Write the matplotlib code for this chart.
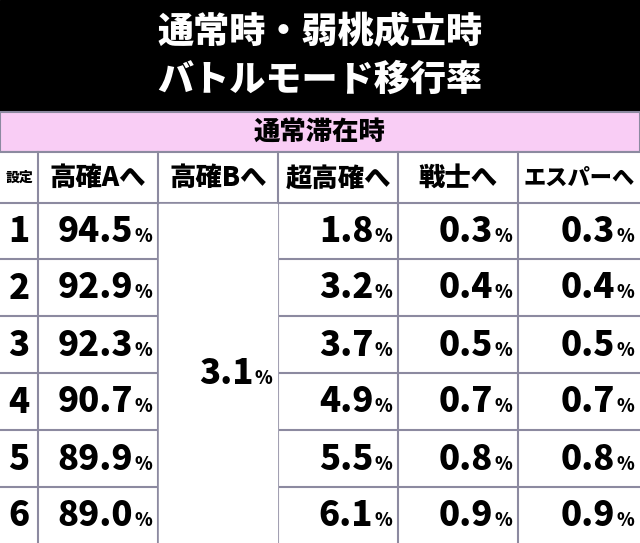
import matplotlib
matplotlib.use("Agg")
import matplotlib.pyplot as plt
from matplotlib.patches import Rectangle

plt.rcParams['font.family'] = ['Noto Sans CJK JP', 'DejaVu Sans']

title_lines = ["通常時・弱桃成立時", "バトルモード移行率"]
section = "通常滞在時"
settings = ["1", "2", "3", "4", "5", "6"]
headers = ["設定", "高確Aへ", "高確Bへ", "超高確へ", "戦士へ", "エスパーへ"]
kakuA = ["94.5", "92.9", "92.3", "90.7", "89.9", "89.0"]
kakuB = "3.1"
choukou = ["1.8", "3.2", "3.7", "4.9", "5.5", "6.1"]
senshi = ["0.3", "0.4", "0.5", "0.7", "0.8", "0.9"]
esper = ["0.3", "0.4", "0.5", "0.7", "0.8", "0.9"]

W, H = 640, 543
fig = plt.figure(figsize=(6.4, 5.43), dpi=100)
ax = fig.add_axes([0, 0, 1, 1])
ax.set_xlim(0, W); ax.set_ylim(H, 0); ax.axis('off')

cols = [0, 38, 158, 278, 398, 518, 640]
rows = [203, 259, 316, 373, 430, 487, 543]
line_c = '#8c8aa0'
WT = 'heavy'

ax.add_patch(Rectangle((0, 0), W, 112, color='black'))
ax.text(320, 32, title_lines[0], color='white', fontsize=26, weight=WT, ha='center', va='center')
ax.text(320, 80, title_lines[1], color='white', fontsize=26, weight=WT, ha='center', va='center')
ax.add_patch(Rectangle((0, 112), W, 40, facecolor='#f9cdf5', edgecolor=line_c, lw=1.5))
ax.text(320, 132, section, fontsize=19, weight=WT, ha='center', va='center')
ax.add_patch(Rectangle((0, 152), W, H - 152, facecolor='white', edgecolor='none'))

ax.plot([0, W], [152, 152], color=line_c, lw=1.5)
for y in rows[:-1]:
    ax.plot([0, W], [y, y], color=line_c, lw=1.5)
for x in cols[1:-1]:
    ax.plot([x, x], [152, H], color=line_c, lw=1.5)
ax.add_patch(Rectangle((cols[2] + 1, rows[0] + 1), cols[3] - cols[2] - 2, H - rows[0], color='white', zorder=3))

for i, h in enumerate(headers):
    cx = (cols[i] + cols[i + 1]) / 2
    fs = 10 if i == 0 else (16 if i == 5 else 19)
    ax.text(cx, 178, h, fontsize=fs, weight=WT, ha='center', va='center')

fig.canvas.draw()
r = fig.canvas.get_renderer()

def val(xr, yc, s, z=4):
    p = ax.text(xr, yc + 6, "%", fontsize=13, weight=WT, ha='right', va='baseline', zorder=z)
    bb = p.get_window_extent(r)
    ax.text(xr - bb.width - 1, yc + 6, s, fontsize=25, weight=WT, ha='right', va='baseline', zorder=z)

for j in range(6):
    yc = (rows[j] + rows[j + 1]) / 2 + 5
    ax.text(19, yc - 4, settings[j], fontsize=25, weight=WT, ha='center', va='center')
    val(cols[2] - 6, yc, kakuA[j])
    val(cols[4] - 6, yc, choukou[j])
    val(cols[5] - 6, yc, senshi[j])
    val(cols[6] - 6, yc, esper[j])
val(cols[3] - 6, (rows[0] + H) / 2 + 5, kakuB)

fig.savefig("out.png", dpi=100)
